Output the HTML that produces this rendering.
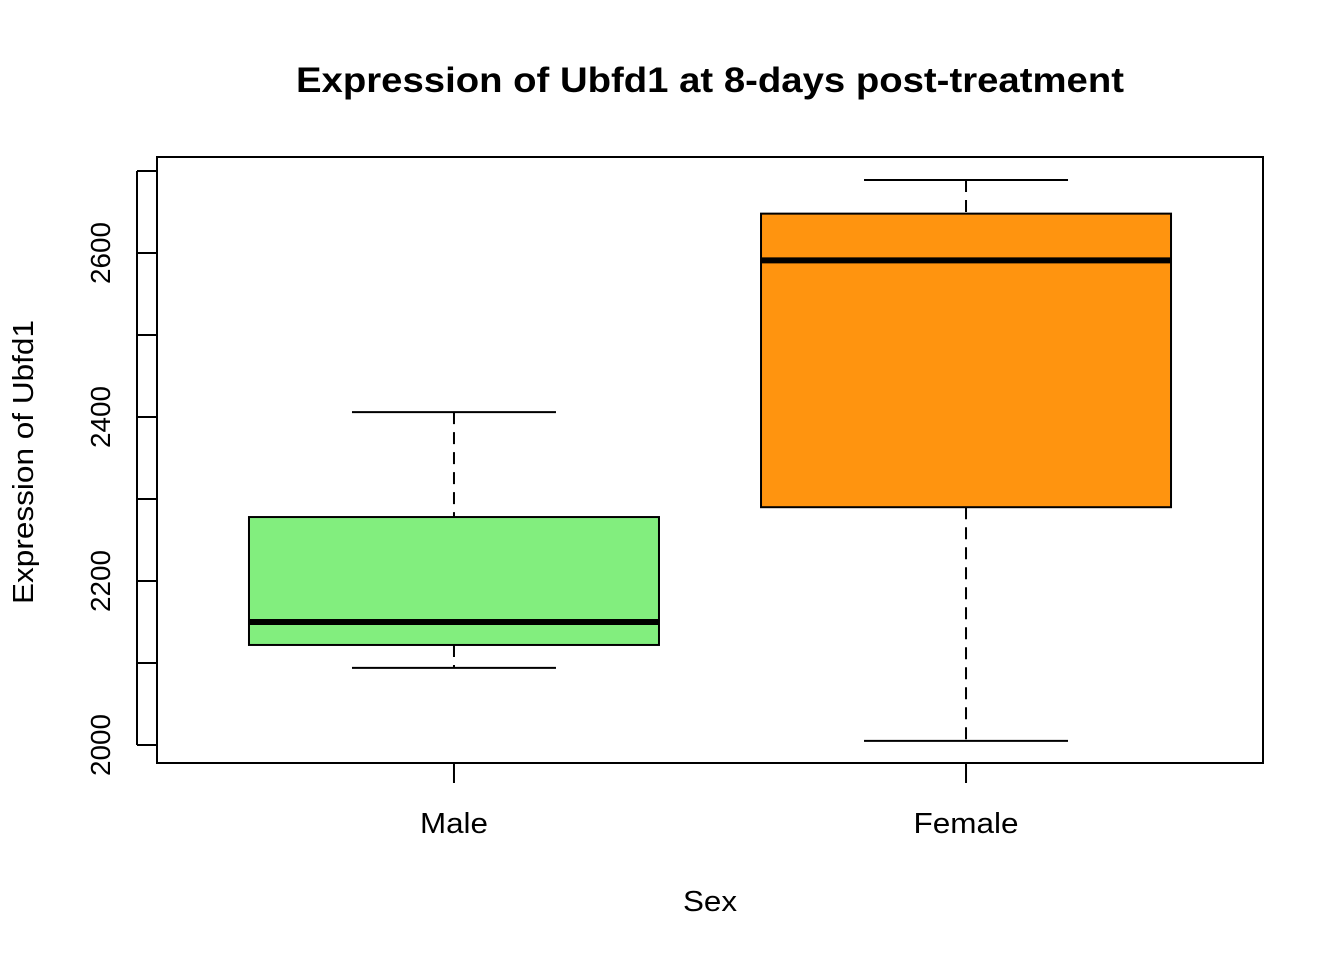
<!DOCTYPE html>
<html><head><meta charset="utf-8"><style>
body{margin:0;background:#fff;}
svg text{font-family:"Liberation Sans",Arial,sans-serif;}
</style></head><body>
<svg id="chart" width="1344" height="960">
<text x="710" y="92" text-anchor="middle" font-size="35" font-weight="bold" textLength="828" lengthAdjust="spacingAndGlyphs">Expression of Ubfd1 at 8-days post-treatment</text>
<rect x="157" y="157" width="1106" height="606" fill="none" stroke="#000" stroke-width="2"/>
<g id="yaxis"></g>
<g id="xaxis"></g>
<g id="boxes"></g>
<text x="710" y="911" text-anchor="middle" font-size="29" textLength="54" lengthAdjust="spacingAndGlyphs">Sex</text>
<text transform="translate(33,462) rotate(-90)" text-anchor="middle" font-size="29" textLength="284" lengthAdjust="spacingAndGlyphs">Expression of Ubfd1</text>
</svg>
<script>
const categories=["Male","Female"];
const whiskerLow=[2094,2005];
const q1=[2122,2290];
const medians=[2150,2591];
const q3=[2278,2648];
const whiskerHigh=[2406,2689];
const fills=["#82ee7e","#ff940f"];
const yTicks=[2000,2100,2200,2300,2400,2500,2600,2700];
const yLabels=[2000,2200,2400,2600];
const labelWidths=[68,105];
const NS="http://www.w3.org/2000/svg";
function y(v){return 745-(v-2000)*0.82;}
function x(i){return 157+(i+1-0.42)*1106/2.16;}
function mk(t,a,p){const e=document.createElementNS(NS,t);for(const k in a)e.setAttribute(k,a[k]);p.appendChild(e);return e;}
const ya=document.getElementById('yaxis');
mk('line',{x1:137,x2:137,y1:y(2000),y2:y(2700),stroke:'#000','stroke-width':2},ya);
yTicks.forEach(v=>{const l=mk('line',{x1:137,x2:157,y1:y(v),y2:y(v),stroke:'#000','stroke-width':2},ya);

});
yLabels.forEach(v=>{const t=mk('text',{transform:`translate(110,${y(v)}) rotate(-90)`,'text-anchor':'middle','font-size':28,textLength:62,lengthAdjust:'spacingAndGlyphs'},ya);t.textContent=v;

});
const xa=document.getElementById('xaxis');
const bx=document.getElementById('boxes');
categories.forEach((c,i)=>{
 const cx=x(i);
 const tk=mk('line',{x1:cx,x2:cx,y1:763,y2:783,stroke:'#000','stroke-width':2},xa);
 
 
 const t=mk('text',{x:cx,y:833,'text-anchor':'middle','font-size':29,textLength:labelWidths[i],lengthAdjust:'spacingAndGlyphs'},xa);t.textContent=c;
 
 
 const g=mk('g',{},bx);
 
 
 const hw=205,cw=102;
 mk('line',{x1:cx,x2:cx,y1:y(whiskerHigh[i]),y2:y(q3[i]),stroke:'#000','stroke-width':2,'stroke-dasharray':'12,8'},g);
 mk('line',{x1:cx,x2:cx,y1:y(q1[i]),y2:y(whiskerLow[i]),stroke:'#000','stroke-width':2,'stroke-dasharray':'12,8'},g);
 mk('line',{x1:cx-cw,x2:cx+cw,y1:y(whiskerHigh[i]),y2:y(whiskerHigh[i]),stroke:'#000','stroke-width':2},g);
 mk('line',{x1:cx-cw,x2:cx+cw,y1:y(whiskerLow[i]),y2:y(whiskerLow[i]),stroke:'#000','stroke-width':2},g);
 mk('rect',{x:cx-hw,y:y(q3[i]),width:2*hw,height:y(q1[i])-y(q3[i]),fill:fills[i],stroke:'#000','stroke-width':2},g);
 mk('line',{x1:cx-hw,x2:cx+hw,y1:y(medians[i]),y2:y(medians[i]),stroke:'#000','stroke-width':6},g);
});
</script>
</body></html>
